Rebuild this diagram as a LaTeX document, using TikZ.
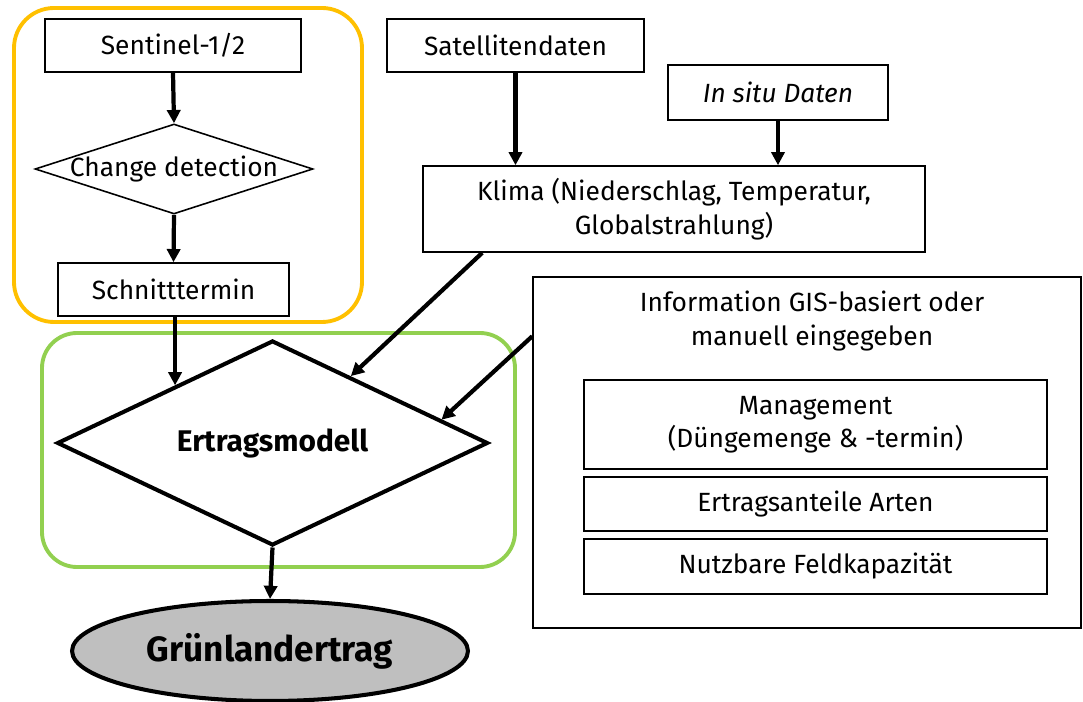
\documentclass[tikz,border=0pt]{standalone}
\usepackage{fontspec}
\setmainfont{Fira Sans}
\usetikzlibrary{positioning,shapes,calc,arrows.meta}
\definecolor{gelb}{HTML}{FFC000}
\definecolor{gruen}{HTML}{92D050}
\definecolor{grau}{HTML}{BFBFBF}

\begin{document}
\begin{tikzpicture}[x=0.02cm, y=-0.02cm,
    box/.style={draw, line width=0.9pt, inner sep=0pt, align=center, font=\fontsize{15}{19}\selectfont},
    raute/.style={diamond, draw, inner sep=0pt, font=\fontsize{15}{18}\selectfont},
    pfeil/.style={line width=2.4pt, -{Triangle[length=7.5pt,width=7.5pt]}}]
    \useasboundingbox (0,0) rectangle (1083,702);

    % Rahmen
    \draw[line width=2.2pt, gelb, rounded corners=0.8cm] (14,8) rectangle (362,322);
    \draw[line width=2.2pt, gruen, rounded corners=0.7cm] (42,333) rectangle (515,567);

    % Linke Kette
    \node[box, minimum width=5.12cm, minimum height=1.06cm] (sentinel) at (173,45.5) {Sentinel-1/2};
    \node[raute, line width=0.9pt, minimum width=5.56cm, minimum height=1.8cm,
          label={[font=\fontsize{15}{18}\selectfont]center:Change detection}] (change) at (174,169) {};
    \node[box, minimum width=4.62cm, minimum height=1.06cm] (schnitt) at (173.5,289.5) {Schnitttermin};

    % Klimadaten
    \node[box, minimum width=5.14cm, minimum height=1.06cm] (satdaten) at (515.5,45.5) {Satellitendaten};
    \node[box, minimum width=4.4cm, minimum height=1.1cm] (insitu) at (778,92.5) {\textit{In situ Daten}};
    \node[box, minimum width=10.04cm, minimum height=1.72cm] (klima) at (674,209) {Klima (Niederschlag, Temperatur,\\Globalstrahlung)};

    % Informationen
    \node[box, minimum width=10.96cm, minimum height=7.02cm] (info) at (807,452.5) {};
    \node[align=center, font=\fontsize{15}{19}\selectfont] (infotitel) at (812,321) {Information GIS-basiert oder\\manuell eingegeben};
    \node[box, minimum width=9.26cm, minimum height=1.78cm] (mgmt) at (815.5,424.5) {Management\\(Düngemenge \& -termin)};
    \node[box, minimum width=9.26cm, minimum height=1.08cm] (anteile) at (815.5,504) {Ertragsanteile Arten};
    \node[box, minimum width=9.26cm, minimum height=1.1cm] (nfk) at (815.5,566.5) {Nutzbare Feldkapazität};

    % Modell und Ergebnis
    \node[raute, line width=2.3pt, aspect=2, minimum width=8.62cm, minimum height=4.1cm,
          font=\fontsize{17}{20}\selectfont\bfseries] (modell) at (272.5,443) {Ertragsmodell};
    \node[ellipse, draw, line width=2.3pt, fill=grau, minimum width=7.92cm, minimum height=2cm,
          font=\fontsize{20}{24}\selectfont\bfseries] (ertrag) at (270,651) {Grünlandertrag};

    % Pfeile
    \coordinate (m1) at ($(modell.west)!0.552!(modell.north)$);
    \coordinate (m2) at ($(modell.north)!0.36!(modell.east)$);
    \coordinate (m3) at ($(modell.north)!0.777!(modell.east)$);
    \draw[pfeil] (sentinel.south) -- (change.north);
    \draw[pfeil] (change.south) -- (schnitt.north);
    \draw[pfeil] (schnitt.south -| m1) -- (m1);
    \draw[pfeil] (satdaten.south) -- (satdaten.south |- klima.north);
    \draw[pfeil] (insitu.south) -- (insitu.south |- klima.north);
    \draw[pfeil] ($(klima.south west)+(60,0)$) -- (m2);
    \draw[pfeil] ($(info.north west)+(0,60)$) -- (m3);
    \draw[pfeil] (modell.south) -- (ertrag.north);
\end{tikzpicture}
\end{document}
